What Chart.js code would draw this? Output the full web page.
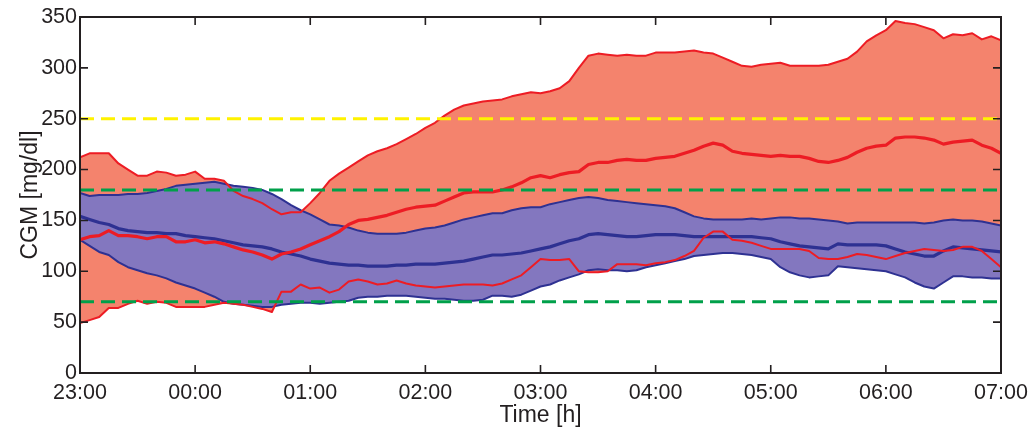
<!DOCTYPE html>
<html><head><meta charset="utf-8">
<script src="https://cdn.jsdelivr.net/npm/chart.js@4.4.1/dist/chart.umd.min.js"></script>
<style>html,body{margin:0;padding:0;background:#fff;}canvas{display:block;}</style>
</head><body>
<canvas id="c" width="1030" height="429"></canvas>
<script>
// minutes after 23:00 (5-minute CGM samples)
const minutes = [
  0,5,10,15,20,25,30,35,40,45,50,55,
  60,65,70,75,80,85,90,95,100,105,110,115,
  120,125,130,135,140,145,150,155,160,165,170,175,
  180,185,190,195,200,205,210,215,220,225,230,235,
  240,245,250,255,260,265,270,275,280,285,290,295,
  300,305,310,315,320,325,330,335,340,345,350,355,
  360,365,370,375,380,385,390,395,400,405,410,415,
  420,425,430,435,440,445,450,455,460,465,470,475,
  480];
const timeTickLabels = ['23:00','00:00','01:00','02:00','03:00','04:00','05:00','06:00','07:00'];
const yTickValues = [0,50,100,150,200,250,300,350];

const redUpper = [
  212,216,216,216,206,200,194,194,198,197,194,195,
  198,191,191,189,179,174,171,167,161,156,158,158,
  167,177,189,196,202,208,214,218,221,225,230,235,
  241,246,253,259,263,265,267,268,269,272,274,276,
  275,277,280,287,300,312,314,313,312,313,312,312,
  315,315,315,316,317,315,314,310,306,302,301,303,
  304,305,302,302,302,302,303,306,309,316,326,332,
  337,346,344,343,340,337,329,333,332,334,328,331,
  327];
const redMedian = [
  131,134,135,140,135,135,134,132,134,134,129,129,
  131,128,129,127,124,121,119,116,112,117,119,122,
  126,130,134,139,146,150,151,153,155,158,161,163,
  164,165,169,173,177,178,178,178,180,183,187,192,
  194,192,195,197,198,205,207,207,209,210,209,209,
  211,212,213,216,219,223,226,224,218,216,215,214,
  213,214,213,213,211,208,207,209,212,217,221,223,
  224,231,232,232,231,229,225,227,228,229,224,221,
  216];
const redLower = [
  49,52,55,64,64,68,71,68,70,69,65,65,
  65,65,67,69,68,67,65,63,60,80,80,87,
  83,84,79,82,90,92,90,87,88,91,88,86,
  85,84,85,86,87,87,87,86,88,92,96,104,
  112,111,111,112,100,99,99,100,107,107,107,106,
  108,109,111,115,120,133,139,139,131,130,128,125,
  122,122,122,122,120,113,112,112,114,117,116,114,
  112,115,118,120,122,121,120,121,124,124,120,112,
  104];
const blueUpper = [
  177,174,175,175,175,176,176,177,179,181,184,185,
  186,187,188,186,184,183,182,180,176,171,165,160,
  156,151,146,145,143,140,138,137,137,137,138,140,
  142,143,145,148,151,153,155,157,157,160,162,163,
  163,166,168,170,172,173,172,170,169,168,167,166,
  165,164,162,158,154,152,151,151,151,151,152,151,
  152,153,153,152,152,151,150,149,147,148,148,148,
  148,148,148,148,147,148,150,151,150,150,149,147,
  145];
const blueMedian = [
  154,151,148,146,142,140,139,138,138,137,137,135,
  134,133,132,130,128,126,125,124,122,119,117,115,
  112,110,108,107,106,106,105,105,105,106,106,107,
  107,107,108,109,110,112,114,116,116,117,118,120,
  122,124,127,130,132,136,137,136,135,134,134,135,
  136,136,136,135,134,134,134,134,134,134,134,133,
  132,129,127,125,124,123,122,127,126,126,126,126,
  125,122,119,117,115,115,120,124,123,122,121,120,
  119];
const blueLower = [
  131,125,119,116,109,104,101,98,96,93,89,86,
  83,79,75,70,68,67,66,65,65,67,68,69,
  69,68,69,70,71,74,75,75,76,76,76,75,
  74,73,73,72,71,71,72,76,76,75,77,81,
  85,87,91,94,97,101,102,101,101,100,101,104,
  106,108,110,112,115,116,117,118,118,117,116,114,
  112,104,99,96,94,95,96,105,104,103,102,101,
  100,97,94,89,85,83,89,95,95,94,94,93,
  93];
const thresholdHigh = 250;
const thresholdTargetHigh = 180;
const thresholdTargetLow = 70;

const RED = '#ED1C24', BLUE = '#2E3192', RED_FILL = '#F4836D', BLUE_FILL = '#8377BF';
const AXIS = '#231F20';
const FONT = "'Liberation Sans', Arial, sans-serif";

const pts = arr => arr.map((v, i) => ({x: minutes[i], y: v}));
const hline = v => [{x: minutes[0], y: v}, {x: minutes[minutes.length - 1], y: v}];

const base = {pointRadius: 0, pointHoverRadius: 0, tension: 0, fill: false, borderJoinStyle: 'round', borderCapStyle: 'butt'};

const datasets = [
  {...base, data: hline(thresholdHigh), borderColor: '#FFF200', borderWidth: 3, borderDash: [14, 7]},
  {...base, data: hline(thresholdTargetHigh), borderColor: '#00A04A', borderWidth: 3, borderDash: [14, 7]},
  {...base, data: hline(thresholdTargetLow), borderColor: '#00A04A', borderWidth: 3, borderDash: [14, 7]},
  {...base, data: pts(redMedian), borderColor: RED, borderWidth: 3.2},
  {...base, data: pts(redUpper), borderColor: RED, borderWidth: 2},
  {...base, data: pts(redLower), borderColor: RED, borderWidth: 2},
  {...base, data: pts(blueMedian), borderColor: BLUE, borderWidth: 3.2},
  {...base, data: pts(blueUpper), borderColor: BLUE, borderWidth: 2},
  {...base, data: pts(blueLower), borderColor: BLUE, borderWidth: 2},
  // band fills: drawn before the lines (higher index drawn first)
  {...base, data: pts(blueUpper), borderWidth: 0, borderColor: 'rgba(0,0,0,0)', backgroundColor: BLUE_FILL, fill: '+1'},
  {...base, data: pts(blueLower), borderWidth: 0, borderColor: 'rgba(0,0,0,0)'},
  {...base, data: pts(redUpper), borderWidth: 0, borderColor: 'rgba(0,0,0,0)', backgroundColor: RED_FILL, fill: '+1'},
  {...base, data: pts(redLower), borderWidth: 0, borderColor: 'rgba(0,0,0,0)'}
];

const frameTicks = {
  id: 'frameTicks',
  afterDatasetsDraw(chart) {
    const {ctx, chartArea: a, scales: {x, y}} = chart;
    ctx.save();
    ctx.strokeStyle = AXIS;
    ctx.lineWidth = 1.6;
    const L = 8;
    ctx.beginPath();
    for (let i = 0; i < timeTickLabels.length; i++) {
      const px = x.getPixelForValue(i * 60);
      ctx.moveTo(px, a.bottom); ctx.lineTo(px, a.bottom - L);
      ctx.moveTo(px, a.top); ctx.lineTo(px, a.top + L);
    }
    for (const v of yTickValues) {
      const py = y.getPixelForValue(v);
      ctx.moveTo(a.left, py); ctx.lineTo(a.left + L, py);
      ctx.moveTo(a.right, py); ctx.lineTo(a.right - L, py);
    }
    ctx.stroke();
    ctx.lineWidth = 2;
    ctx.strokeRect(a.left, a.top, a.right - a.left, a.bottom - a.top);
    ctx.restore();
  }
};

new Chart(document.getElementById('c'), {
  type: 'line',
  data: {datasets},
  plugins: [frameTicks],
  options: {
    responsive: false,
    animation: false,
    events: [],
    layout: {padding: {left: 0, right: 29, top: 17, bottom: 0}},
    plugins: {legend: {display: false}, tooltip: {enabled: false}, filler: {propagate: false}},
    scales: {
      x: {
        type: 'linear', min: 0, max: 480,
        afterFit: s => { s.height = 56; s.paddingLeft = 0; s.paddingRight = 0; },
        afterBuildTicks: s => { s.ticks = timeTickLabels.map((t, i) => ({value: i * 60})); },
        ticks: {autoSkip: false, maxRotation: 0, padding: 7, color: AXIS, font: {family: FONT, size: 21.5},
          callback: (v) => timeTickLabels[Math.round(v / 60)]},
        grid: {display: true, drawOnChartArea: false, drawTicks: false},
        border: {display: false},
        title: {display: true, text: 'Time [h]', color: AXIS, font: {family: FONT, size: 23}, padding: {top: 0, bottom: 0}}
      },
      y: {
        type: 'linear', min: 0, max: 350,
        afterFit: s => { s.width = 80; },
        afterBuildTicks: s => { s.ticks = yTickValues.map(v => ({value: v})); },
        ticks: {padding: 3, color: AXIS, font: {family: FONT, size: 21.5}},
        grid: {display: true, drawOnChartArea: false, drawTicks: false},
        border: {display: false},
        title: {display: true, text: 'CGM [mg/dl]', color: AXIS, font: {family: FONT, size: 23}, padding: {top: 17, bottom: 0}}
      }
    }
  }
});
</script>
</body></html>
